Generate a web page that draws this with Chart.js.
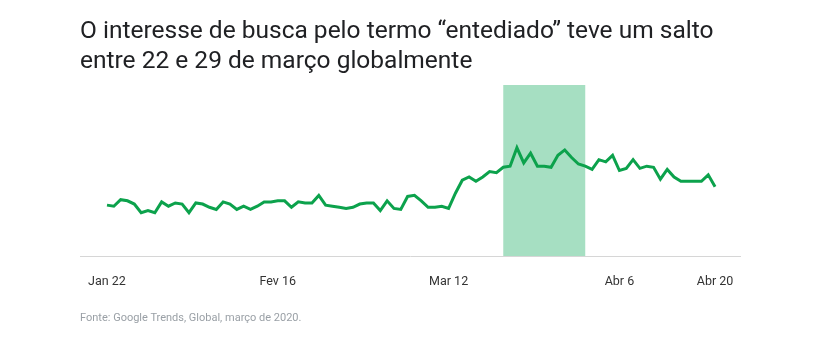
<!DOCTYPE html>
<html>
<head>
<meta charset="utf-8">
<script src="https://cdn.jsdelivr.net/npm/chart.js@4.4.1/dist/chart.umd.min.js"></script>
<style>
  html, body { margin:0; padding:0; background:#fff; }
  #wrap { position:relative; width:825px; height:339px; overflow:hidden; }
  #title { position:absolute; left:80px; top:15px; font-family:Roboto, "Noto Sans", sans-serif; font-size:24.5px; line-height:30px; color:#202124; white-space:nowrap; }
  #source { position:absolute; left:80px; top:311px; font-family:Roboto, "Noto Sans", sans-serif; font-size:11px; color:#9aa0a6; white-space:nowrap; }
  canvas { position:absolute; left:0; top:0; }
</style>
</head>
<body>
<div id="wrap">
  <canvas id="c" width="825" height="339"></canvas>
  <div id="title">O interesse de busca pelo termo “entediado” teve um salto<br>entre 22 e 29 de março globalmente</div>
  <div id="source">Fonte: Google Trends, Global, março de 2020.</div>
</div>
<script>
// Daily search interest, 22 Jan – 20 Apr 2020 (index 0 = Jan 22)
const interest = [
  47,46,52,51,48,40,42,40,50,46,
  49,48,40,49,48,45,43,50,48,43,
  46,43,46,50,50,51,51,45,50,49,
  49,56,47,46,45,44,45,48,49,49,
  42,51,44,43,55,56,51,45,45,46,
  44,58,70,73,69,73,78,77,82,83,
  100,86,95,83,83,82,93,98,91,85,
  83,80,89,87,93,79,81,89,81,83,
  82,71,80,73,69,69,69,69,75,64
];
const tickDays = [0, 25, 50, 75, 89];
const tickLabels = ['Jan 22', 'Fev 16', 'Mar 12', 'Abr 6', 'Abr 20'];
const highlightRange = [58, 70];

const points = interest.map((v, i) => ({ x: i, y: v }));

const shadePlugin = {
  id: 'shade',
  beforeDatasetsDraw(chart) {
    const { ctx, chartArea, scales } = chart;
    const x0 = scales.x.getPixelForValue(highlightRange[0]);
    const x1 = scales.x.getPixelForValue(highlightRange[1]);
    ctx.save();
    ctx.fillStyle = '#a6dfc2';
    ctx.fillRect(x0, chartArea.top, x1 - x0, chartArea.bottom - chartArea.top);
    ctx.restore();
  }
};

new Chart(document.getElementById('c'), {
  type: 'line',
  data: {
    datasets: [{
      data: points,
      borderColor: '#0ca24c',
      borderWidth: 3,
      pointRadius: 0,
      tension: 0,
      fill: false
    }]
  },
  options: {
    responsive: false,
    animation: false,
    layout: { padding: { left: 80, right: 85, top: 85, bottom: 43 } },
    plugins: { legend: { display: false }, tooltip: { enabled: false } },
    scales: {
      x: {
        type: 'linear',
        min: -3.95,
        max: 92.65,
        afterBuildTicks(scale) { scale.ticks = tickDays.map(v => ({ value: v })); },
        afterFit(scale) { scale.height = 40; },
        grid: { display: false, drawTicks: false },
        border: { display: true, color: '#d6d6d6', width: 1 },
        ticks: {
          padding: 18,
          maxRotation: 0,
          autoSkip: false,
          color: '#333333',
          font: { family: 'Roboto, "Noto Sans", sans-serif', size: 12.5 },
          callback(v) { const k = tickDays.indexOf(v); return k >= 0 ? tickLabels[k] : ''; }
        }
      },
      y: {
        display: false,
        min: 0,
        max: 158
      }
    }
  },
  plugins: [shadePlugin]
});
</script>
</body>
</html>
